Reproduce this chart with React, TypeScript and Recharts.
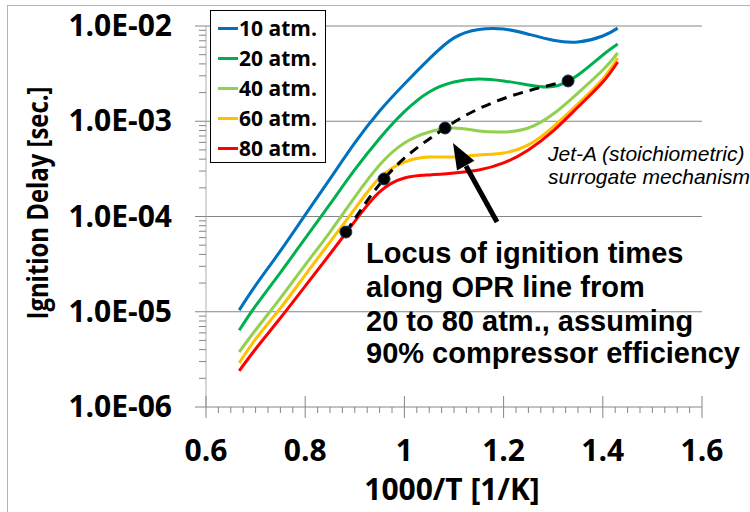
import { LineChart, Line, XAxis, YAxis, CartesianGrid } from 'recharts';

// 1000/T sample points shared by the five pressure curves
const xValues = [0.667, 0.7, 0.75, 0.8, 0.85, 0.9, 0.95, 1.0, 1.05, 1.1, 1.15, 1.2, 1.25, 1.3, 1.35, 1.4, 1.43];

const atm10 = [1.04e-5, 1.89e-5, 4.35e-5, 1.04e-4, 2.48e-4, 5.92e-4, 1.28e-3, 2.46e-3, 4.51e-3, 7.5e-3, 9.2e-3, 9.3e-3, 8.2e-3, 7.1e-3, 6.8e-3, 7.85e-3, 9.5e-3];
const atm20 = [6.4e-6, 1.15e-5, 2.58e-5, 5.9e-5, 1.35e-4, 3.1e-4, 6.6e-4, 1.26e-3, 2.03e-3, 2.58e-3, 2.78e-3, 2.65e-3, 2.4e-3, 2.31e-3, 3.06e-3, 4.96e-3, 6.47e-3];
const atm40 = [3.78e-6, 6.43e-6, 1.39e-5, 3.1e-5, 6.87e-5, 1.6e-4, 3.48e-4, 5.91e-4, 7.71e-4, 8.5e-4, 7.9e-4, 7.71e-4, 8.49e-4, 1.19e-3, 1.98e-3, 3.45e-3, 5.21e-3];
const atm60 = [2.9e-6, 5.17e-6, 1.09e-5, 2.43e-5, 5.4e-5, 1.2e-4, 2.54e-4, 3.73e-4, 4.21e-4, 4.21e-4, 4.43e-4, 4.65e-4, 5.64e-4, 8.71e-4, 1.52e-3, 2.78e-3, 4.61e-3];
const atm80 = [2.39e-6, 4.06e-6, 8.59e-6, 1.86e-5, 4.04e-5, 8.9e-5, 1.81e-4, 2.54e-4, 2.73e-4, 2.86e-4, 3.08e-4, 3.65e-4, 4.99e-4, 7.91e-4, 1.41e-3, 2.58e-3, 4.19e-3];

const seriesNames = ['10 atm.', '20 atm.', '40 atm.', '60 atm.', '80 atm.'];
const seriesColors = ['#0070C0', '#00B050', '#92D050', '#FFC000', '#FF0000'];
const seriesValues = [atm10, atm20, atm40, atm60, atm80];

// ignition times along the OPR line (20 -> 80 atm)
const locusX = [0.882, 0.959, 1.082, 1.33];
const locusY = [6.87e-5, 2.48e-4, 8.49e-4, 2.65e-3];

const xMajorTicks = [0.6, 0.8, 1.0, 1.2, 1.4, 1.6];
const yMajorTicks = [1e-6, 1e-5, 1e-4, 1e-3, 1e-2];

const xTicks: number[] = [];
for (let i = 0; i <= 40; i++) xTicks.push(Math.round((0.6 + i * 0.025) * 1000) / 1000);
const yTicks: number[] = [];
yMajorTicks.slice(0, -1).forEach((d) => {
  for (let m = 1; m <= 9; m++) yTicks.push(m * d);
});
yTicks.push(1e-2);

const tickFont = '"Open Sans", sans-serif';
const noteFont = '"Liberation Sans", Arial, sans-serif';
const axisGray = '#868686';

const isMajorX = (v: number) => xMajorTicks.some((t) => Math.abs(t - v) < 1e-6);
const isMajorY = (v: number) => yMajorTicks.some((t) => Math.abs(t - v) / t < 1e-6);

const XTick = ({ x, y, payload }: any) => {
  const major = isMajorX(payload.value);
  return (
    <g>
      <line x1={x} x2={x} y1={major ? y - 11 : y} y2={major ? y + 11 : y + 6} stroke={axisGray} />
      {major && (
        <text x={x} y={y + 54} textAnchor="middle" fontFamily={tickFont} fontWeight={700} fontSize={30} fill="#000">
          {String(Math.round(payload.value * 10) / 10)}
        </text>
      )}
    </g>
  );
};

const YTick = ({ x, y, payload }: any) => {
  const major = isMajorY(payload.value);
  const exp = Math.round(Math.log10(payload.value));
  return (
    <g>
      <line x1={major ? x - 11 : x - 7} x2={x} y1={y} y2={y} stroke={axisGray} />
      {major && (
        <text x={x - 34} y={y + 10} textAnchor="end" fontFamily={tickFont} fontWeight={700} fontSize={30} fill="#000">
          {`1.0E-${String(-exp).padStart(2, '0')}`}
        </text>
      )}
    </g>
  );
};

const LocusDot = (p: any) => (
  <circle key={`dot-${p.index}`} cx={p.cx} cy={p.cy} r={6} fill="#000" stroke="#203864" strokeWidth={1} />
);

export default function App() {
  const locusData = locusX.map((x, i) => ({ x, y: locusY[i] }));

  return (
    <div style={{ position: 'absolute', left: 0, top: 0, width: 750, height: 512, overflow: 'hidden', background: '#fff' }}>
      {/* chart area border */}
      <div style={{ position: 'absolute', left: 7, top: 5, width: 900, height: 700, border: '1px solid #b4b4b4' }} />

      <div style={{ position: 'absolute', left: 0, top: 0 }}>
        <LineChart width={750} height={512} margin={{ top: 26, right: 48, bottom: 45, left: 0 }}>
          <CartesianGrid vertical={false} horizontalValues={[1e-5, 1e-4, 1e-3, 1e-2]} stroke={axisGray} />
          <XAxis
            dataKey="x"
            type="number"
            domain={[0.6, 1.6]}
            ticks={xTicks}
            interval={0}
            tickSize={0}
            tickMargin={0}
            tickLine={false}
            height={60}
            axisLine={{ stroke: axisGray }}
            tick={<XTick />}
            allowDataOverflow
          />
          <YAxis
            type="number"
            scale="log"
            domain={[1e-6, 1e-2]}
            ticks={yTicks}
            interval={0}
            tickSize={0}
            tickMargin={0}
            tickLine={false}
            width={206}
            axisLine={{ stroke: '#b0b0b0' }}
            tick={<YTick />}
            allowDataOverflow
          />
          {seriesValues.map((vals, s) => (
            <Line
              key={seriesNames[s]}
              name={seriesNames[s]}
              data={xValues.map((x, i) => ({ x, y: vals[i] }))}
              dataKey="y"
              type="natural"
              stroke={seriesColors[s]}
              strokeWidth={3}
              dot={false}
              isAnimationActive={false}
            />
          ))}
          <Line
            name="OPR locus"
            data={locusData}
            dataKey="y"
            type="monotone"
            stroke="#000"
            strokeWidth={3}
            strokeDasharray="10 7"
            dot={LocusDot}
            isAnimationActive={false}
          />
        </LineChart>
      </div>

      {/* legend */}
      <div
        style={{
          position: 'absolute',
          left: 210,
          top: 10,
          width: 114,
          height: 151,
          border: '1px solid #000',
          background: '#fff',
          fontFamily: tickFont,
          fontWeight: 700,
          fontSize: 21,
        }}
      >
        {seriesNames.map((n, i) => (
          <div key={n} style={{ position: 'absolute', left: 7, top: 3 + i * 30, height: 28, display: 'flex', alignItems: 'center' }}>
            <span style={{ display: 'inline-block', width: 20, height: 3, background: seriesColors[i], marginRight: 1 }} />
            <span style={{ lineHeight: '28px' }}>{n}</span>
          </div>
        ))}
      </div>

      {/* titles and annotations */}
      <svg width={750} height={512} style={{ position: 'absolute', left: 0, top: 0, pointerEvents: 'none' }}>
        <text
          x={36}
          y={203}
          transform="rotate(-90 36 203)"
          textAnchor="middle"
          dominantBaseline="central"
          fontFamily={tickFont}
          fontWeight={700}
          fontSize={29}
          textLength={233}
          lengthAdjust="spacingAndGlyphs"
        >
          Ignition Delay [sec.]
        </text>
        <text x={452} y={500} textAnchor="middle" fontFamily={tickFont} fontWeight={700} fontSize={30}>
          1000/T [1/K]
        </text>

        <g fontFamily={noteFont} fontStyle="italic" fontSize={21} fill="#000">
          <text x={548} y={161}>Jet-A (stoichiometric)</text>
          <text x={548} y={184}>surrogate mechanism</text>
        </g>

        <g fontFamily={noteFont} fontWeight={700} fontSize={29} fill="#000">
          <text x={366} y={263}>Locus of ignition times</text>
          <text x={366} y={297}>along OPR line from</text>
          <text x={366} y={331}>20 to 80 atm., assuming</text>
          <text x={366} y={363}>90% compressor efficiency</text>
        </g>

        <line x1={497} y1={222} x2={466} y2={166} stroke="#000" strokeWidth={5} />
        <polygon points="453,143 474.4,160.8 457,170.6" fill="#000" />
      </svg>
    </div>
  );
}
